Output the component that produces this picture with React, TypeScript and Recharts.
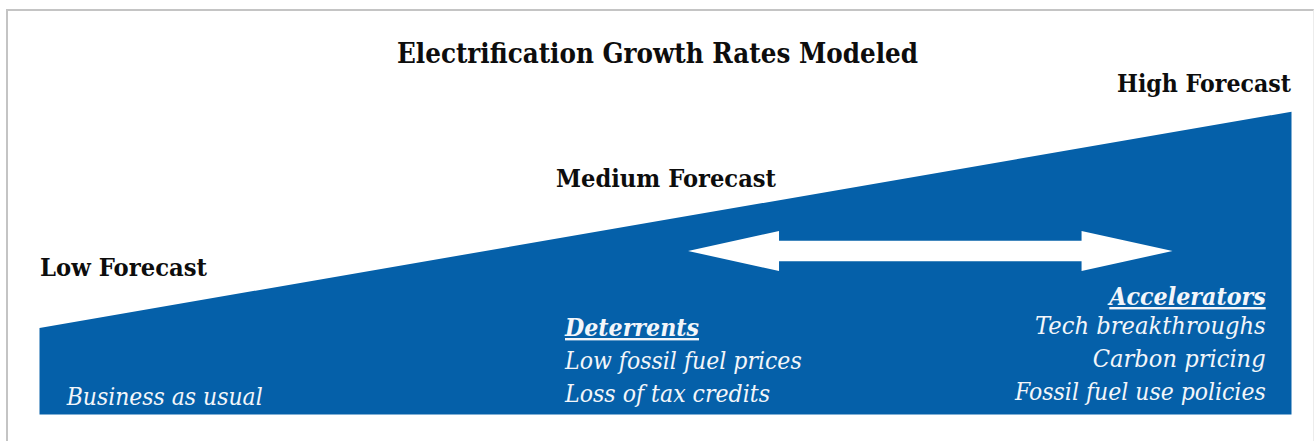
import React from "react";
import { AreaChart, Area, XAxis, YAxis, ReferenceLine } from "recharts";

// Forecast scenarios (relative electrification growth level)
const scenarios = ["Low Forecast", "Medium Forecast", "High Forecast"];
const positions = [0, 1, 2];
const growthLevels = [1.0, 2.25, 3.5];

// Range arrow between deterrents and accelerators (x in scenario units, y in level units)
const arrowStart = { x: 1.036, y: 1.89 };
const arrowEnd = { x: 1.81, y: 1.89 };

const title = "Electrification Growth Rates Modeled";
const lowNote = ["Business as usual"];
const deterrentsHeader = "Deterrents";
const deterrents = ["Low fossil fuel prices", "Loss of tax credits"];
const acceleratorsHeader = "Accelerators";
const accelerators = ["Tech breakthroughs", "Carbon pricing", "Fossil fuel use policies"];

const data = positions.map((p, i) => ({ pos: p, name: scenarios[i], level: growthLevels[i] }));

const BLUE = "#0560a9";
const SERIF = '"DejaVu Serif", "Liberation Serif", serif';

const DoubleArrow = (props: any) => {
  const { x1, y1, x2 } = props;
  const y = y1;
  const headLen = 91;
  const headH = 20;
  const shaftH = 10.2;
  const d = [
    `M ${x1} ${y}`,
    `L ${x1 + headLen} ${y - headH}`,
    `L ${x1 + headLen} ${y - shaftH}`,
    `L ${x2 - headLen} ${y - shaftH}`,
    `L ${x2 - headLen} ${y - headH}`,
    `L ${x2} ${y}`,
    `L ${x2 - headLen} ${y + headH}`,
    `L ${x2 - headLen} ${y + shaftH}`,
    `L ${x1 + headLen} ${y + shaftH}`,
    `L ${x1 + headLen} ${y + headH}`,
    "Z",
  ].join(" ");
  return <path d={d} fill="#ffffff" stroke="none" />;
};

type T = {
  text: string;
  x: number;
  y: number;
  w: number;
  size: number;
  bold?: boolean;
  italic?: boolean;
  underline?: boolean;
  color: string;
};

const texts: T[] = [
  { text: title, x: 397, y: 62.5, w: 521, size: 27, bold: true, color: "#0d0d0d" },
  { text: scenarios[2], x: 1117, y: 92, w: 174, size: 25, bold: true, color: "#0d0d0d" },
  { text: scenarios[1], x: 556, y: 186.5, w: 220, size: 25, bold: true, color: "#0d0d0d" },
  { text: scenarios[0], x: 40, y: 276, w: 167, size: 25, bold: true, color: "#0d0d0d" },
  { text: lowNote[0], x: 66.7, y: 405, w: 196, size: 24, italic: true, color: "#f3f6fa" },
  { text: deterrentsHeader, x: 565, y: 336, w: 134, size: 24, bold: true, italic: true, underline: true, color: "#f3f6fa" },
  { text: deterrents[0], x: 565, y: 368.5, w: 236.7, size: 24, italic: true, color: "#f3f6fa" },
  { text: deterrents[1], x: 565, y: 401.5, w: 205, size: 24, italic: true, color: "#f3f6fa" },
  { text: acceleratorsHeader, x: 1109.3, y: 305, w: 156.4, size: 24, bold: true, italic: true, underline: true, color: "#f3f6fa" },
  { text: accelerators[0], x: 1035, y: 333.5, w: 230.7, size: 24, italic: true, color: "#f3f6fa" },
  { text: accelerators[1], x: 1092.7, y: 367, w: 173, size: 24, italic: true, color: "#f3f6fa" },
  { text: accelerators[2], x: 1015, y: 400, w: 250.7, size: 24, italic: true, color: "#f3f6fa" },
];

export default function App() {
  return (
    <div
      style={{
        position: "absolute",
        left: 0,
        top: 0,
        width: 1316,
        height: 441,
        background: "#ffffff",
        overflow: "hidden",
      }}
    >
      <div
        style={{
          position: "absolute",
          left: 6,
          top: 9,
          width: 1316 - 6 - 2,
          height: 441,
          borderTop: "2px solid #c4c4c4",
          borderLeft: "2px solid #c4c4c4",
          borderRight: "1px solid #ececec",
          boxSizing: "border-box",
        }}
      />
      <div style={{ position: "absolute", left: 0, top: 0 }}>
        <AreaChart
          width={1316}
          height={441}
          data={data}
          margin={{ top: 111.7, right: 24.5, bottom: 26.5, left: 39.5 }}
        >
          <XAxis dataKey="pos" type="number" domain={[0, 2]} hide />
          <YAxis type="number" domain={[0, 3.5]} hide />
          <Area
            type="linear"
            dataKey="level"
            stroke="none"
            fill={BLUE}
            fillOpacity={1}
            isAnimationActive={false}
            dot={false}
            activeDot={false}
          />
          <ReferenceLine
            segment={[arrowStart, arrowEnd]}
            shape={(p: any) => <DoubleArrow {...p} />}
            ifOverflow="visible"
          />
        </AreaChart>
      </div>
      <svg
        width={1316}
        height={441}
        style={{ position: "absolute", left: 0, top: 0, pointerEvents: "none" }}
      >
        {texts.map((t, i) => (
          <text
            key={i}
            x={t.x}
            y={t.y}
            textLength={t.w}
            lengthAdjust="spacingAndGlyphs"
            fontFamily={SERIF}
            fontSize={t.size}
            fontWeight={t.bold ? 700 : 400}
            fontStyle={t.italic ? "italic" : "normal"}
            textDecoration={t.underline ? "underline" : undefined}
            fill={t.color}
          >
            {t.text}
          </text>
        ))}
      </svg>
    </div>
  );
}
